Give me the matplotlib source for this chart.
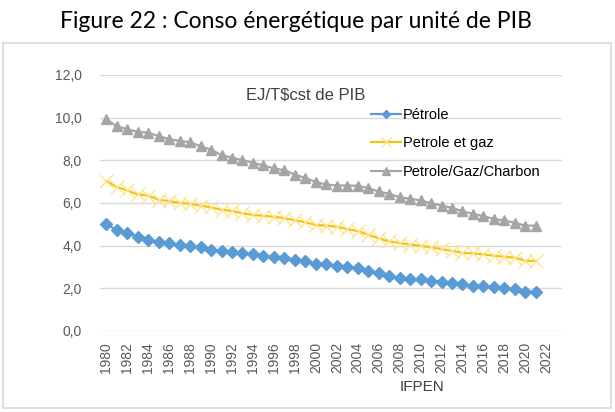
import numpy as np
import matplotlib
matplotlib.use('Agg')
import matplotlib.pyplot as plt
from matplotlib.patches import Rectangle

# data (EJ / T$ constant of GDP)
years = list(range(1980, 2022))
petrole = [5.00, 4.74, 4.60, 4.42, 4.28, 4.16, 4.11, 4.05, 4.00, 3.92,
           3.81, 3.75, 3.72, 3.64, 3.59, 3.50, 3.45, 3.40, 3.33, 3.28,
           3.15, 3.12, 3.06, 3.01, 2.95, 2.82, 2.71, 2.59, 2.49, 2.46,
           2.42, 2.35, 2.31, 2.23, 2.18, 2.13, 2.09, 2.06, 2.01, 1.98,
           1.85, 1.84]
petrole_gaz = [7.03, 6.75, 6.59, 6.40, 6.35, 6.15, 6.09, 6.01, 5.96, 5.88,
               5.79, 5.69, 5.62, 5.52, 5.44, 5.40, 5.36, 5.29, 5.19, 5.10,
               4.97, 4.94, 4.89, 4.78, 4.68, 4.52, 4.34, 4.20, 4.13, 4.05,
               4.00, 3.92, 3.84, 3.76, 3.66, 3.64, 3.59, 3.53, 3.48, 3.44,
               3.29, 3.29]
petrole_gaz_charbon = [9.92, 9.60, 9.46, 9.33, 9.30, 9.13, 8.99, 8.91, 8.85, 8.66,
                       8.50, 8.24, 8.13, 8.00, 7.89, 7.76, 7.62, 7.53, 7.33, 7.17,
                       6.98, 6.87, 6.82, 6.82, 6.81, 6.70, 6.54, 6.43, 6.27, 6.20,
                       6.12, 5.99, 5.88, 5.77, 5.61, 5.49, 5.38, 5.25, 5.18, 5.07,
                       4.94, 4.94]
tick_years = list(range(1980, 2023, 2))
y_ticks = [0, 2, 4, 6, 8, 10, 12]

W, H = 615, 412
fig = plt.figure(figsize=(W / 100, H / 100), dpi=100)
plt.rcParams['font.family'] = ['Liberation Sans', 'DejaVu Sans']

# light frame round the chart
fig.patches.append(Rectangle((3 / W, 1 - 408 / H), 608 / W, 365 / H,
                             transform=fig.transFigure, fill=False,
                             edgecolor='#d9d9d9', linewidth=1.2))

fig.text(296 / W, 1 - 22 / H, 'Figure 22 : Conso énergétique par unité de PIB',
         ha='center', va='center', fontsize=16.5, family=['Lato', 'DejaVu Sans'],
         color='black')

ax = fig.add_axes([100 / W, 1 - 331 / H, 462 / W, 256 / H])

ax.plot(years, petrole, color='#5b9bd5', linewidth=1.6, marker='D',
        markersize=6, label='Pétrole')
ax.plot(years, petrole_gaz, color='#f2c314', linewidth=1.6, marker='x',
        markersize=10, markeredgewidth=0.9, markeredgecolor='#ffe38a',
        label='Petrole et gaz')
ax.plot(years, petrole_gaz_charbon, color='#a5a5a5', linewidth=1.6, marker='^',
        markersize=7.5, label='Petrole/Gaz/Charbon')

ax.set_xlim(1979.4, 2023.5)
ax.set_ylim(0, 12)
ax.set_yticks(y_ticks)
ax.set_yticklabels([f'{v:.1f}'.replace('.', ',') for v in y_ticks])
ax.set_xticks(tick_years)
ax.set_xticklabels([str(y) for y in tick_years], rotation=90)
ax.tick_params(axis='both', length=0, labelsize=10, colors='#595959')
ax.tick_params(axis='y', pad=13)
ax.tick_params(axis='x', pad=8)
ax.grid(axis='y', color='#d9d9d9', linewidth=1)
ax.set_axisbelow(True)
for s in ax.spines.values():
    s.set_visible(False)

ax.text(0.315, 0.92, 'EJ/T\\$cst de PIB', transform=ax.transAxes,
        fontsize=12, color='#404040', ha='left', va='center')

ax.legend(loc='upper left', bbox_to_anchor=(0.57, 0.9), frameon=False,
          fontsize=10.5, handlelength=2.1, handletextpad=0.1,
          labelspacing=1.0, borderpad=0, markerscale=0.75)

fig.text(422 / W, 1 - 387 / H, 'IFPEN', ha='center', va='center',
         fontsize=11, color='#404040')

fig.savefig('out.png', dpi=100)
